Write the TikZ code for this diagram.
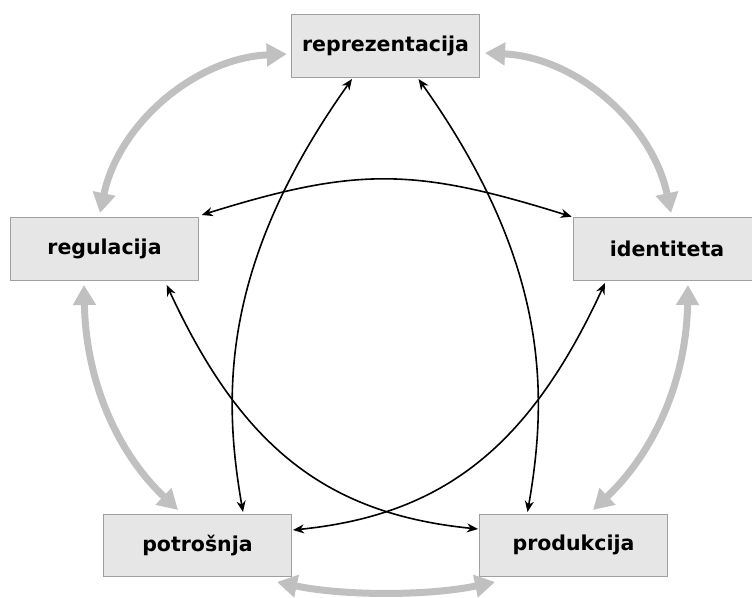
\documentclass[tikz,border=0pt]{standalone}
\usepackage{fontspec}
\setmainfont{DejaVu Sans}
\usetikzlibrary{arrows.meta,calc}
\definecolor{boxfill}{HTML}{E6E6E6}
\definecolor{boxline}{HTML}{A0A0A0}
\definecolor{grayarrow}{HTML}{C0C0C0}
\begin{document}
\begin{tikzpicture}[x=1pt,y=-1pt,
  box/.style={draw=boxline, fill=boxfill, line width=1pt, minimum width=188pt, minimum height=62.5pt, inner sep=0pt,
    font=\fontsize{20.5pt}{24pt}\selectfont\bfseries},
  thin arrow/.style={line width=1.6pt, black, {Stealth[length=11pt,width=9pt,inset=3.5pt]}-{Stealth[length=11pt,width=9pt,inset=3.5pt]}},
  thick arrow/.style={line width=7pt, grayarrow, {Triangle[length=20pt,width=22pt]}-{Triangle[length=20pt,width=22pt]}}]
\useasboundingbox (0,0) rectangle (752,597);
\node[box] (rep) at (385.5,46) {reprezentacija};
\node[box] (reg) at (104.5,249) {regulacija};
\node[box] (ide) at (667,249) {identiteta};
\node[box] (pot) at (197.5,545.5) {potrošnja};
\node[box] (pro) at (573.5,545.25) {produkcija};
% gray arrows
\draw[thick arrow] ($(rep.center)+(-98.8,8)$) .. controls +(-91.3,4.2) and +(18.7,-89.4) .. ($(reg.center)+(-4.5,-36)$);
\draw[thick arrow] ($(rep.center)+(99.5,7)$) .. controls +(91.3,4.2) and +(-18.7,-89.4) .. ($(ide.center)+(4,-36)$);
\draw[thick arrow] ($(reg.center)+(-20.5,36)$) .. controls +(2,100) and +(-58.4,-55.2) .. ($(pot.center)+(-19.5,-35.5)$);
\draw[thick arrow] ($(ide.center)+(21,36)$) .. controls +(-2,100) and +(58.4,-55.2) .. ($(pro.center)+(19.5,-35.25)$);
\draw[thick arrow] ($(pot.center)+(79.5,36.5)$) .. controls +(67,14) and +(-67,14) .. ($(pro.center)+(-78.5,36.75)$);
% black arrows
\draw[thin arrow] ($(rep.center)+(-33.5,33)$) .. controls +(-130,183) and +(-21,-120) .. ($(pot.center)+(45.5,-33.5)$);
\draw[thin arrow] ($(rep.center)+(33,33)$) .. controls +(130,183) and +(21,-120) .. ($(pro.center)+(-46,-33.25)$);
\draw[thin arrow] ($(reg.center)+(97.2,-34)$) .. controls +(156,-48.7) and +(-156,-48.7) .. ($(ide.center)+(-95.3,-32.3)$);
\draw[thin arrow] ($(reg.center)+(62.2,36)$) .. controls +(75.6,163.8) and +(-150,-15) .. ($(pro.center)+(-95.5,-16.25)$);
\draw[thin arrow] ($(ide.center)+(-62,34)$) .. controls +(-75.6,163.8) and +(150,-15) .. ($(pot.center)+(95.5,-15.5)$);
\end{tikzpicture}
\end{document}
